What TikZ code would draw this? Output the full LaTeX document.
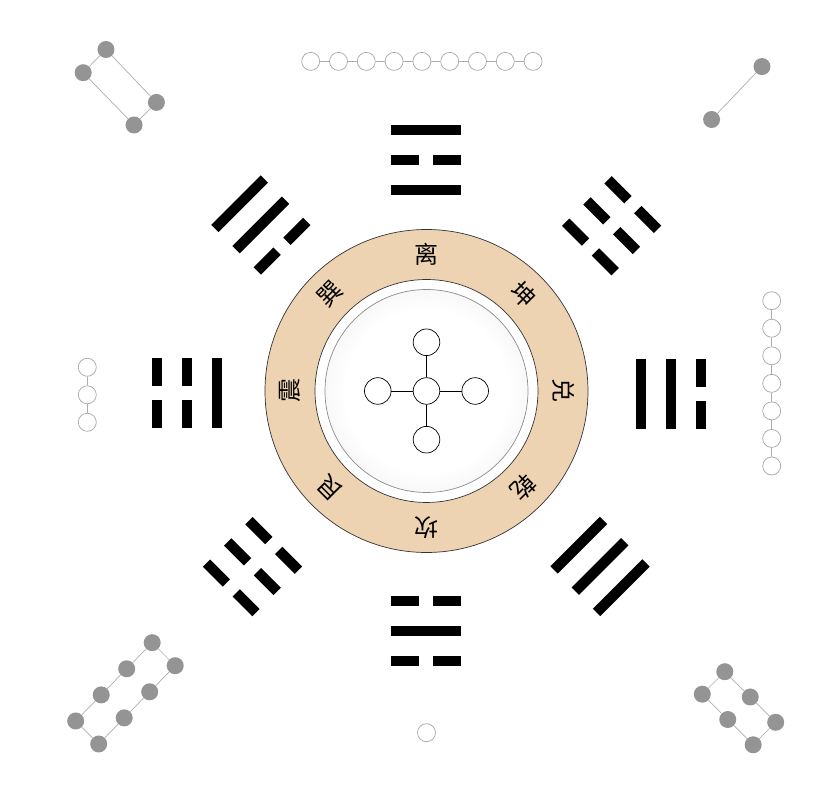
\documentclass[tikz,border=0pt]{standalone}
\usepackage{fontspec}
\newfontfamily\cjk{Noto Sans CJK SC}
\usetikzlibrary{positioning}

\definecolor{ringtan}{RGB}{238,211,178}
\colorlet{discedge}{black!17}
\pgfdeclareradialshading{discshade}{\pgfpoint{0bp}{0bp}}{color(0bp)=(white); color(20bp)=(white); color(50bp)=(discedge)}

% one line of a trigram, #1 = distance from the trigram centre
\newcommand{\yangline}[1]{\fill (-35,#1-5.2) rectangle (35,#1+5.2);}
\newcommand{\yinline}[1]{\fill (-35,#1-5.2) rectangle (-7,#1+5.2); \fill (7,#1-5.2) rectangle (35,#1+5.2);}

\begin{document}
\begin{tikzpicture}[
  x=1pt, y=1pt,
  node distance=21.4pt,
  hub/.style={circle, draw, fill=white, minimum size=26.6pt, inner sep=0pt, line width=0.7pt},
  guaname/.style={font=\cjk\fontsize{24}{24}\selectfont, inner sep=0pt},
  hollow/.style={circle, draw=black!35, minimum size=18pt, inner sep=0pt, line width=0.7pt},
  dot/.style={circle, fill=black!42, minimum size=17pt, inner sep=0pt},
  link/.style={draw=black!32, line width=0.7pt}
]
\useasboundingbox (-426.5,-419) rectangle (404.5,391);

% Ring with the eight names
\node[circle, minimum size=323pt, fill=ringtan, draw=black!80, line width=0.7pt] (ring) at (0,0) {};
\node[circle, minimum size=223pt, fill=white, draw=black!80, line width=0.7pt] (gap) at (0,0) {};
\node[circle, minimum size=203pt, shading=discshade, draw=black!45, line width=0.7pt] (disc) at (0,0) {};
\foreach \name/\ang [count=\i] in {离/90, 坤/45, 兑/0, 乾/-45, 坎/-90, 艮/-135, 震/180, 巽/135}
  \node[guaname, rotate=\ang-90] (gua\i) at (\ang:137) {\name};

% Centre cross
\node[hub] (hc) at (0,0) {};
\node[hub, above=of hc] (hn) {};
\node[hub, below=of hc] (hs) {};
\node[hub, left=of hc] (hw) {};
\node[hub, right=of hc] (he) {};
\foreach \t in {hn,hs,hw,he}
  \draw[line width=0.7pt] (hc) -- (\t);

% Trigrams (lines listed from inner to outer)
\foreach \px/\py/\rot/\la/\lb/\lc in {
    0/231/0/1/0/1, -165.7/166/45/0/1/1, -239.5/-2.5/90/1/0/0, -174/-175.7/135/0/0/0,
    0/-240/180/0/1/0, 173.5/-175.5/225/1/1/1, 244.5/-3/-90/1/1/0, 185.2/165.2/-45/0/0/0} {
  \begin{scope}[shift={(\px,\py)}, rotate=\rot]
    \foreach \b [count=\k] in {\la,\lb,\lc} {
      \pgfmathsetmacro\ly{30*\k-60}
      \ifnum\b=1 \yangline{\ly}\else\yinline{\ly}\fi
    }
  \end{scope}
}

% Hollow chains
\foreach \i in {1,...,9} {
  \node[hollow] (t\i) at ({-115.8+27.8*(\i-1)},329.6) {};
  \ifnum\i>1 \pgfmathtruncatemacro\j{\i-1} \draw[link] (t\j) -- (t\i); \fi
}
\foreach \i in {1,...,3} {
  \node[hollow] (l\i) at (-339.2,{23.7-27.5*(\i-1)}) {};
  \ifnum\i>1 \pgfmathtruncatemacro\j{\i-1} \draw[link] (l\j) -- (l\i); \fi
}
\foreach \i in {1,...,7} {
  \node[hollow] (r\i) at (345.2,{90.3-27.55*(\i-1)}) {};
  \ifnum\i>1 \pgfmathtruncatemacro\j{\i-1} \draw[link] (r\j) -- (r\i); \fi
}
\node[hollow] (b1) at (0,-341.7) {};

% Grey dot graphs
\node[dot] (q1) at (-320.5,341.5) {};
\node[dot] (q2) at (-343.3,318.3) {};
\node[dot] (q3) at (-270.1,288.6) {};
\node[dot] (q4) at (-292.4,266) {};
\draw[link] (q1) -- (q2) (q1) -- (q3) (q2) -- (q4) (q3) -- (q4);

\node[dot] (p1) at (335.5,324.4) {};
\node[dot] (p2) at (285.1,271.5) {};
\draw[link] (p1) -- (p2);

% lower left ladder
\foreach \k in {0,...,3} {
  \node[dot] (u\k) at ({-274.3-25.5*\k},{-251.7-26.1*\k}) {};
  \node[dot] (v\k) at ({-251.3-25.5*\k},{-274.7-26.1*\k}) {};
  \ifnum\k>0 \pgfmathtruncatemacro\j{\k-1} \draw[link] (u\j) -- (u\k) (v\j) -- (v\k); \fi
}
\draw[link] (u0) -- (v0) (u3) -- (v3);

% lower right ladder
\foreach \k in {0,...,2} {
  \node[dot] (w\k) at ({298.3+25.45*\k},{-280.7-25.3*\k}) {};
  \node[dot] (z\k) at ({275.8+25.45*\k},{-303.2-25.3*\k}) {};
  \ifnum\k>0 \pgfmathtruncatemacro\j{\k-1} \draw[link] (w\j) -- (w\k) (z\j) -- (z\k); \fi
}
\draw[link] (w0) -- (z0) (w2) -- (z2);

\end{tikzpicture}
\end{document}
